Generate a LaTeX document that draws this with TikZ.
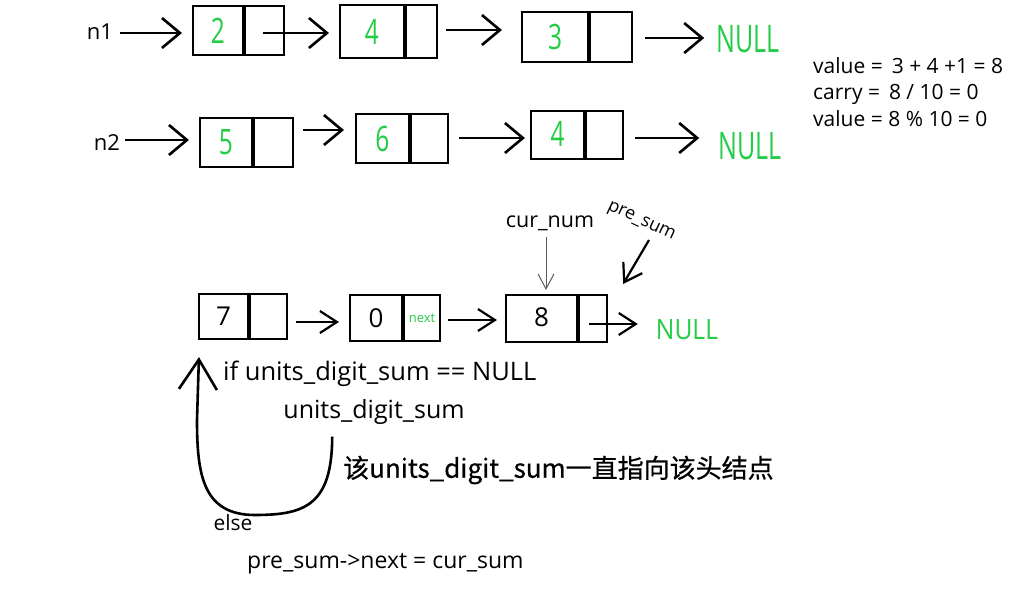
\documentclass[tikz,border=0pt]{standalone}
\usepackage{fontspec}
\setmainfont{Open Sans}
\newfontfamily\cjk[FakeBold=0.6]{Noto Sans CJK SC}
\usetikzlibrary{arrows.meta,calc}
\definecolor{ngreen}{RGB}{34,204,68}
\definecolor{thingray}{RGB}{90,90,90}
\newcommand\sq[2]{\scalebox{#1}[1]{#2}}
\begin{document}
\begin{tikzpicture}[x=1pt,y=-1pt,
  cell/.style={draw, line width=2.1pt, inner sep=0pt, text=ngreen},
  bigdig/.style={font=\fontsize{35}{40}\selectfont},
  smalldig/.style={font=\fontsize{26}{30}\selectfont, text=black},
  nulltxt/.style={text=ngreen, inner sep=0pt},
  lbl/.style={inner sep=0pt, font=\fontsize{22}{26}\selectfont},
  note/.style={inner sep=0pt, anchor=base west, font=\fontsize{21}{25}\selectfont},
  arr/.style={line width=2.6pt, -{Straight Barb[length=18pt,width=30pt,line width=2.6pt]}},
  curvearr/.style={line width=2.6pt, -{Straight Barb[length=30pt,width=38pt,line width=2.6pt]}},
  thinarr/.style={line width=1pt, draw=thingray, -{Straight Barb[length=15pt,width=16pt,line width=1pt]}},
  midarr/.style={line width=2.2pt, -{Straight Barb[length=17pt,width=22pt,line width=2.2pt]}},
]
\useasboundingbox[fill=white] (0,0) rectangle (1021,605);

% ---------- row 1 ----------
\node[lbl] (n1) at (100,32) {n1};
\node[cell, bigdig, minimum width=50, minimum height=49] (A1) at (218,30.5) {\sq{0.7}{2}};
\node[cell, minimum width=39, minimum height=49, anchor=west] (A1r) at (A1.east) {};
\node[cell, bigdig, minimum width=64, minimum height=53] (A2) at (372,31.5) {\sq{0.7}{4}};
\node[cell, minimum width=31, minimum height=53, anchor=west] (A2r) at (A2.east) {};
\node[cell, bigdig, minimum width=66, minimum height=50] (A3) at (555,37) {\sq{0.7}{3}};
\node[cell, minimum width=42, minimum height=50, anchor=west] (A3r) at (A3.east) {};
\node[nulltxt, font=\fontsize{38}{40}\selectfont] (N1) at (748,39) {\sq{0.66}{NULL}};

\draw[arr] ($(n1.east)+(7,1)$) -- ($(n1.east -| A1.west)+(-10,1)$);
\draw[arr] ($(A1r.center)+(-2,2.5)$) -- ($(A1r.center -| A2.west)+(-10,2.5)$);
\draw[arr] ($(A2r.east)+(8,-1.5)$) -- ($(A2r.east -| A3.west)+(-19,-1.5)$);
\draw[arr] ($(A3r.east)+(12,1)$) -- ($(A3r.east -| N1.west)+(-12,1)$);

% ---------- row 2 ----------
\node[lbl] (n2) at (107,143) {n2};
\node[cell, bigdig, minimum width=52, minimum height=49] (B1) at (226,142.5) {\raisebox{-4pt}{\sq{0.7}{5}}};
\node[cell, minimum width=39, minimum height=49, anchor=west] (B1r) at (B1.east) {};
\node[cell, bigdig, minimum width=53, minimum height=49] (B2) at (382.5,138.5) {\raisebox{-2pt}{\sq{0.7}{6}}};
\node[cell, minimum width=37, minimum height=49, anchor=west] (B2r) at (B2.east) {};
\node[cell, bigdig, minimum width=53, minimum height=48] (B3) at (557.5,135) {\raisebox{3pt}{\sq{0.7}{4}}};
\node[cell, minimum width=37, minimum height=48, anchor=west] (B3r) at (B3.east) {};
\node[nulltxt, font=\fontsize{38}{40}\selectfont] (N2) at (750,146) {\sq{0.66}{NULL}};

\draw[arr] ($(n2.east)+(5,-3)$) -- ($(n2.east -| B1.west)+(-10,-3)$);
\draw[arr] ($(B1r.east)+(9,-12.5)$) -- ($(B1r.east -| B2.west)+(-11,-12.5)$);
\draw[arr] ($(B2r.east)+(10,-0.5)$) -- ($(B2r.east -| B3.west)+(-5,-0.5)$);
\draw[arr] ($(B3r.east)+(11,3)$) -- ($(B3r.east -| N2.west)+(-19,3)$);

% ---------- side notes ----------
\node[note] (v1) at (813,73) {value = \,3 + 4 +1 = 8};
\node[note] (v2) at (813,99) {carry = \,8 / 10 = 0};
\node[note] (v3) at (813,126) {value = 8 \% 10 = 0};

% ---------- row 3 ----------
\node[cell, smalldig, minimum width=49, minimum height=45] (C1) at (223.5,316.5) {\raisebox{-3pt}{7}};
\node[cell, minimum width=37, minimum height=45, anchor=west] (C1r) at (C1.east) {};
\node[cell, smalldig, minimum width=52, minimum height=46] (C2) at (376,318) {0};
\node[cell, minimum width=36, minimum height=46, anchor=west, font=\fontsize{13}{15}\selectfont] (C2r) at (C2.east) {next};
\node[cell, smalldig, minimum width=71, minimum height=47] (C3) at (541.5,318.5) {\raisebox{2pt}{8}};
\node[cell, minimum width=28, minimum height=47, anchor=west] (C3r) at (C3.east) {};
\node[nulltxt, font=\fontsize{28}{30}\selectfont] (N3) at (687,330) {\sq{0.88}{NULL}};

\draw[midarr] ($(C1r.east)+(8,5.5)$) -- ($(C1r.east -| C2.west)+(-10,5.5)$);
\draw[midarr] ($(C2r.east)+(7,2)$) -- ($(C2r.east -| C3.west)+(-8,2)$);
\draw[midarr] ($(C3r.center)+(-4,5.5)$) -- ($(C3r.center -| N3.west)+(-18,5.5)$);

\node[lbl, font=\fontsize{21.5}{24}\selectfont] (curnum) at (550,223) {cur\_num};
\draw[thinarr] ($(curnum.south)+(-4,6)$) -- ($(C3.north)+(4.5,-4)$);
\node[lbl, font=\fontsize{18}{22}\selectfont, rotate=-25] (presum) at (641,222) {pre\_sum};
\draw[midarr] ($(presum.center)+(8,18)$) -- ($(C3r.north east)+(15,-10)$);

% ---------- notes below ----------
\node[lbl, anchor=west, font=\fontsize{25.5}{29}\selectfont] (ifl) at (223,374) {if units\_digit\_sum == NULL};
\node[lbl, font=\fontsize{25}{29}\selectfont] (units) at (374,412) {units\_digit\_sum};
\node[lbl, anchor=west, font=\cjk\fontsize{26}{30}\selectfont] (cn) at (343,470) {该units\_digit\_sum一直指向该头结点};
\node[lbl, font=\fontsize{21}{24}\selectfont] (else) at (233,523) {else};
\node[lbl, anchor=west, font=\fontsize{23}{27}\selectfont] (pn) at (247,564) {pre\_sum->next = cur\_sum};

\draw[curvearr] ($(units.south west)+(49,12)$) .. controls (332,505) and (305,515) .. (255,515)
   .. controls (203,515) and (197,475) .. (197,420) -- ($(C1.south west)+(1,17)$);
\end{tikzpicture}
\end{document}
